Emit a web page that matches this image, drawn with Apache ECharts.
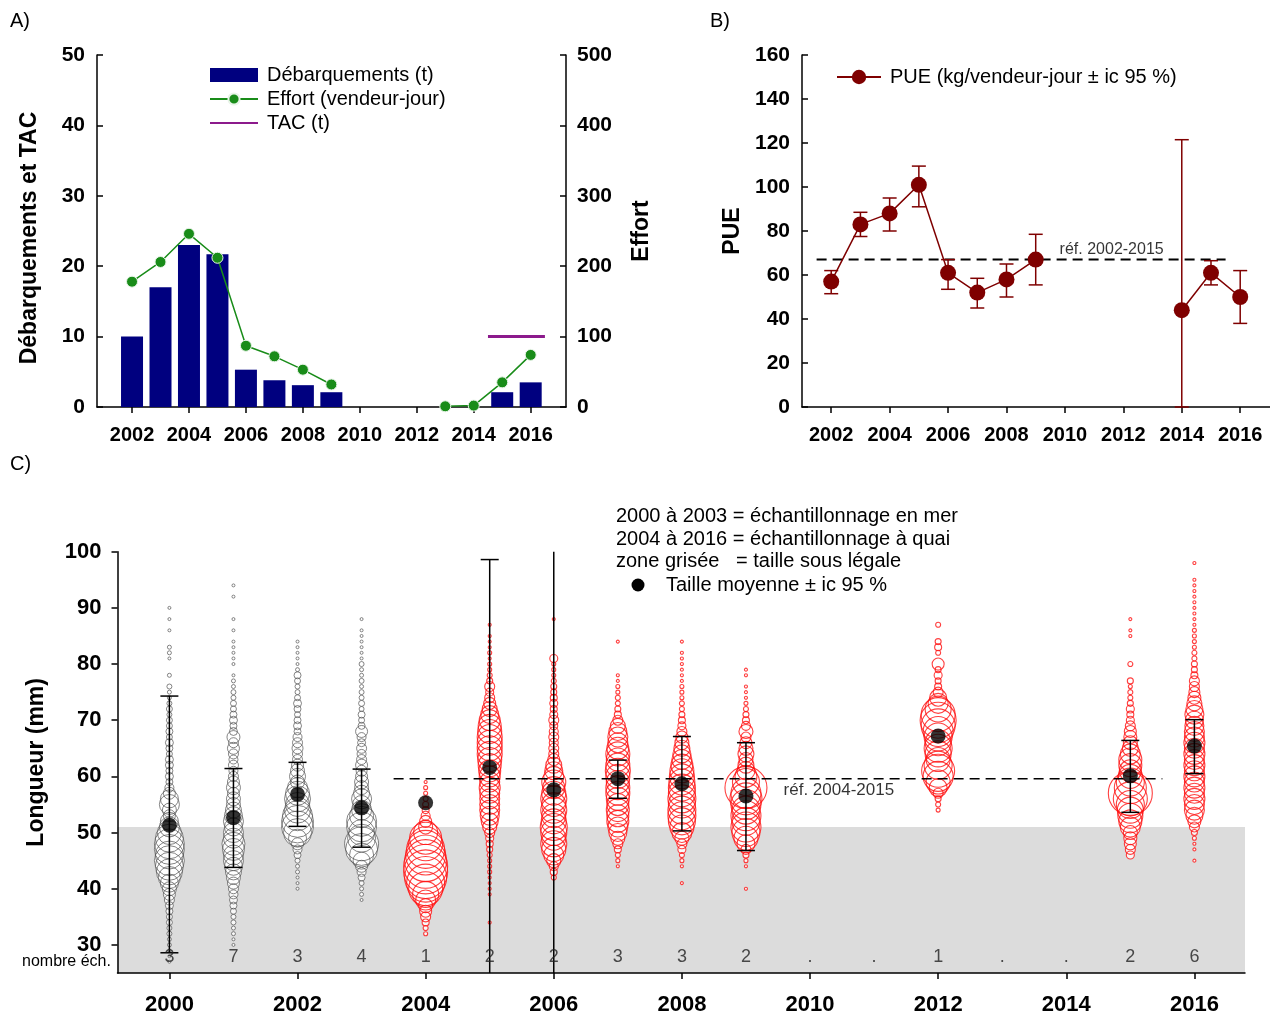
<!DOCTYPE html>
<html>
<head>
<meta charset="utf-8">
<script src="https://cdn.jsdelivr.net/npm/echarts@6/dist/echarts.min.js"></script>
<style>
  html, body { margin: 0; padding: 0; background: #fff; }
  #chart { width: 1270px; height: 1016px; }
</style>
</head>
<body>
<div id="chart"></div>
<script>
// ---------- A) Débarquements, effort, TAC ----------
const landYears = [2002, 2003, 2004, 2005, 2006, 2007, 2008, 2009, 2015, 2016];
const landings = [10, 17, 23, 21.7, 5.3, 3.8, 3.1, 2.1, 2.1, 3.5];
const effortYears = [2002, 2003, 2004, 2005, 2006, 2007, 2008, 2009, 2013, 2014, 2015, 2016];
const effort = [178, 206, 246, 212, 87, 72, 53, 32, 1, 2, 35, 74];
const tacYears = [2015, 2016];
const tac = [10, 10];

// ---------- B) PUE ----------
const pueYears = [2002, 2003, 2004, 2005, 2006, 2007, 2008, 2009, 2014, 2015, 2016];
const pue = [57, 83, 88, 101, 61, 52, 58, 67, 44, 61, 50];
const pueLow = [51.5, 77.5, 80, 91, 53.5, 45, 50, 55.5, 0, 55.5, 38];
const pueHigh = [62, 88.5, 95, 109.5, 67, 58.5, 65, 78.5, 121.5, 66.5, 62];
const pueRef = 67;
const pueRefSpan = [2001.5, 2015.5];

// ---------- C) Fréquences de longueur ----------
const sizeYears = [2000, 2001, 2002, 2003, 2004, 2005, 2006, 2007, 2008, 2009, 2010, 2011, 2012, 2013, 2014, 2015, 2016];
const sampleCount = [3, 7, 3, 4, 1, 2, 2, 3, 3, 2, null, null, 1, null, null, 2, 6];
const meanLength = [51.3, 52.7, 56.8, 54.4, 55.3, 61.6, 57.6, 59.6, 58.7, 56.5, null, null, 67.2, null, null, 60.1, 65.4];
const ciLow = [28.6, 43.8, 51.1, 47.4, null, 24.6, 15, 56.1, 50.3, 46.8, null, null, null, null, null, 53.6, 60.5];
const ciHigh = [74.3, 61.4, 62.5, 61.3, null, 98.6, 100.5, 62.9, 67.1, 66.0, null, null, null, null, null, 66.4, 70.1];
const legalSize = 51;
const sizeRef = 59.6;
const sizeRefSpan = [2003.5, 2015.5];
const lastSeaYear = 2003;

// relative frequency by 1-mm length class, starting at the given length
const start2000 = 27;
const freq2000 = [0.2,0.2,0.2,0.4,0.4,0.6,0.6,0.8,0.8,1.0, 1.2,1.6,2.0,2.4,3.2,4.0,4.8,5.2,5.6,5.2,
  5.6,5.6,5.2,4.4,3.6,3.2,2.0,2.4,3.6,3.2, 2.0,1.4,1.0,1.2,1.0,1.2,1.2,0.8,1.0,1.2,
  0.8,1.0,0.8,0.8,0.6,0.8,0.6,0.4,0.4,0.6, 0,0.4,0,0,0.2,0.4,0.4,0,0,0.2, 0,0.2,0,0.2];
const start2001 = 30;
const freq2001 = [0.2,0.2,0.4,0.4,0.6,0.6,0.8,1.0,1.2,1.4, 1.6,2.0,2.4,2.8,3.2,3.6,3.6,4.0,4.2,3.6,
  3.6,3.2,3.6,3.2,2.8,2.4,2.4,2.0,2.4,2.0, 1.6,1.4,1.6,1.4,1.6,2.0,1.6,2.2,1.2,1.0,
  1.2,1.0,0.8,0.8,0.6,0.6,0.4,0.4,0.2,0, 0.2,0.2,0.2,0.2,0.2,0,0.2,0,0.2,0, 0,0,0.2,0,0.2];
const start2002 = 40;
const freq2002 = [0.2,0.2,0.2,0.4,0.4,0.6,1.0,1.4,2.0,3.2, 5.2,6.0,6.0,5.6,4.8,4.4,4.8,4.4,3.6,2.4,
  2.8,2.4,2.0,1.6,1.6,1.8,1.6,1.4,1.0,1.2, 1.0,0.8,1.0,1.2,0.8,0.6,0.6,0.8,1.0,0.4, 0.2,0.2,0.2,0.2,0.2];
const start2003 = 38;
const freq2003 = [0.2,0.4,0.4,0.6,1.0,1.4,2.0,3.0,4.4,6.0, 6.4,5.2,4.8,5.6,5.6,4.4,3.6,3.2,3.6,2.8,
  2.4,2.4,2.0,1.8,2.0,1.6,1.4,1.6,1.2,1.4, 2.0,1.0,0.8,1.0,0.6,0.8,0.6,0.6,0.4,0.6,
  0.4,0.4,0.6,0.2,0.2,0.2,0.2,0.2,0.2,0, 0.2];
const start2004 = 32;
const freq2004 = [0.4,0.6,1.0,1.6,2.0,2.4,3.6,4.8,6.4,7.2, 8.0,8.4,8.4,8.0,7.6,7.2,6.4,6.0,4.4,2.4,
  2.0,1.4,1.0,0.8,0.6,0.4,0.4,0.2];
const start2005 = 34;
const freq2005 = [0.2,0,0,0,0,0.2,0.2,0.2,0.2,0.4, 0.4,0.4,0.6,0.8,1.0,1.2,1.6,2.4,3.0,3.4,
  3.6,3.6,3.6,3.6,3.8,3.6,3.8,4.0,4.2,4.4, 4.6,4.6,4.6,4.6,4.4,4.2,3.8,3.2,2.6,2.0,
  1.6,1.2,1.6,0.8,0.6,0.4,0.4,0.2,0.4,0.2, 0.2,0.2,0,0.2];
const start2006 = 42;
const freq2006 = [0.6,1.0,1.4,2.4,3.6,4.4,4.8,4.4,4.8,5.0, 4.6,4.4,4.8,4.4,4.8,4.4,4.0,4.4,3.6,3.2,
  2.8,2.0,1.6,1.6,1.4,1.6,1.4,1.2,1.6,1.2, 1.0,1.2,1.0,0.8,0.8,0.6,0.4,0.4,0.4,1.2, 0,0,0,0,0,0,0.2];
const start2007 = 44;
const freq2007 = [0.2,0.4,0.6,1.0,1.6,2.4,3.2,3.6,4.0,4.0, 4.2,4.0,4.2,4.4,4.4,4.2,4.4,4.6,4.4,4.2,
  4.4,4.0,3.6,3.6,3.2,2.6,1.6,1.0,0.8,0.6, 0.6,0.4,0.4,0.2,0.2,0,0,0,0,0, 0.2];
const start2008 = 41;
const freq2008 = [0.2,0,0,0.2,0.4,0.6,1.2,1.6,2.4,3.6, 4.4,5.0,5.2,5.2,5.0,5.2,5.0,5.0,4.8,4.6,
  4.4,4.0,3.6,3.2,2.8,2.4,2.0,1.6,1.2,1.0, 0.8,0.6,0.6,0.4,0.4,0.4,0.2,0.2,0.2,0.2, 0.2,0.2,0,0.2];
const start2009 = 40;
const freq2009 = [0.2,0,0,0,0.2,0.4,0.8,1.6,3.2,4.4, 5.2,5.6,5.2,5.6,5.2,5.6,6.0,5.6,8.0,5.0,
  4.0,3.2,2.8,2.4,2.8,2.4,2.0,1.6,2.4,1.4, 1.0,0.8,0.6,0.4,0.2,0.2,0.2,0,0.2,0.2];
const start2012 = 54;
const freq2012 = [0.4,0.6,0.8,1.6,3.2,4.4,5.6,6.2,5.2,4.4, 4.8,5.2,4.8,5.2,5.6,6.4,6.8,6.4,4.8,3.6,
  3.0,1.6,1.0,0.8,1.2,0.8,2.0,0,0.6,1.0, 0.8,0,0,0.6];
const start2015 = 46;
const freq2015 = [1.2,1.6,2.0,2.2,2.4,3.6,4.2,4.6,4.8,5.2, 6.4,8.4,6.0,5.2,4.4,4.0,4.2,4.2,3.6,2.8,
  2.4,2.2,2.0,1.6,1.2,1.0,1.2,0.8,0.6,0.6, 0.4,0.8,0,0,0.6,0,0,0,0,0.2, 0.2,0,0.2];
const start2016 = 45;
const freq2016 = [0.2,0,0.2,0.2,0.4,0.8,1.6,2.2,3.0,3.6, 3.6,3.8,3.6,3.8,3.6,3.8,3.6,3.8,3.6,3.8,
  3.6,3.8,3.6,3.6,3.4,3.2,3.4,3.0,2.6,2.2, 1.8,1.6,1.6,1.0,0.8,0.8,0.6,0.6,0.4,0.4,
  0.4,0.4,0.2,0.2,0.2,0.2,0.2,0.2,0.2,0.2, 0.2,0,0,0.2];

const lengthTables = [
  [2000, start2000, freq2000], [2001, start2001, freq2001], [2002, start2002, freq2002],
  [2003, start2003, freq2003], [2004, start2004, freq2004], [2005, start2005, freq2005],
  [2006, start2006, freq2006], [2007, start2007, freq2007], [2008, start2008, freq2008],
  [2009, start2009, freq2009], [2012, start2012, freq2012], [2015, start2015, freq2015],
  [2016, start2016, freq2016]
];

// ---------- helpers ----------
const FONT = '"Liberation Sans", Arial, Helvetica, sans-serif';
const evenYears = (a, b) => { const r = []; for (let y = a; y <= b; y += 2) r.push(y); return r; };

// break a line wherever a year is missing
function withGaps(years, values) {
  const out = [];
  years.forEach((y, i) => {
    if (i > 0 && y - years[i - 1] > 1) out.push([y - 1, '-']);
    out.push([y, values[i]]);
  });
  return out;
}

const circlesSea = [], circlesQuay = [];
lengthTables.forEach(([yr, first, fr]) => {
  fr.forEach((f, i) => {
    if (f > 0) (yr <= lastSeaYear ? circlesSea : circlesQuay).push([yr, first + i, f]);
  });
});
const circleSize = v => 2 + 5 * v[2];

const C_YMIN = 25, C_YMAX = 100;
const C_XMIN = 1999.19, C_XMAX = 2016.79;

function errorBarRenderer(cap, color, width, yMin, yMax) {
  return function (params, api) {
    const x = api.value(0);
    let lo = api.value(1), hi = api.value(2);
    const loCap = lo >= yMin, hiCap = hi <= yMax;
    lo = Math.max(lo, yMin); hi = Math.min(hi, yMax);
    const pLo = api.coord([x, lo]), pHi = api.coord([x, hi]);
    const style = { stroke: color, lineWidth: width };
    const children = [{ type: 'line', shape: { x1: pLo[0], y1: pLo[1], x2: pHi[0], y2: pHi[1] }, style }];
    if (hiCap) children.push({ type: 'line', shape: { x1: pHi[0] - cap, y1: pHi[1], x2: pHi[0] + cap, y2: pHi[1] }, style });
    if (loCap) children.push({ type: 'line', shape: { x1: pLo[0] - cap, y1: pLo[1], x2: pLo[0] + cap, y2: pLo[1] }, style });
    return { type: 'group', children };
  };
}

const axisLine = { show: true, onZero: false, lineStyle: { color: '#000', width: 1.5 } };
const tickOut = { show: true, inside: false, length: 6, lineStyle: { color: '#000', width: 1.5 } };
const tickIn = { show: true, inside: true, length: 6, lineStyle: { color: '#000', width: 1.5 } };
const boldLabel = (size, margin) => ({ color: '#000', fontFamily: FONT, fontWeight: 'bold', fontSize: size, margin });
const yearLabel = (size, margin, years) => Object.assign({ customValues: years, formatter: v => String(v) }, boldLabel(size, margin));
const nameStyle = { color: '#000', fontFamily: FONT, fontWeight: 'bold', fontSize: 23 };
const legendText = { fontFamily: FONT, fontSize: 20, color: '#000', padding: [0, 0, 0, 4] };

const pueData = withGaps(pueYears, pue);
const pueBars = pueYears.map((y, i) => [y, pueLow[i], pueHigh[i]]);
const meanPts = [], ciBars = [], countPts = [];
sizeYears.forEach((y, i) => {
  if (meanLength[i] != null) meanPts.push([y, meanLength[i]]);
  if (ciLow[i] != null) ciBars.push([y, ciLow[i], ciHigh[i]]);
  countPts.push([y, 28, sampleCount[i] == null ? '.' : String(sampleCount[i])]);
});

const option = {
  animation: false,
  backgroundColor: '#fff',
  textStyle: { fontFamily: FONT },
  grid: [
    { left: 97, top: 55, width: 469, height: 352 },
    { left: 802, top: 55, width: 468, height: 352 },
    { left: 117.5, top: 551.7, width: 1127.5, height: 421.6 }
  ],
  xAxis: [
    { gridIndex: 0, type: 'value', min: 2000.77, max: 2017.24, axisLine, splitLine: { show: false },
      axisTick: Object.assign({ customValues: evenYears(2002, 2016) }, tickOut),
      axisLabel: yearLabel(20, 18, evenYears(2002, 2016)) },
    { gridIndex: 1, type: 'value', min: 2001, max: 2017.02, axisLine, splitLine: { show: false },
      axisTick: Object.assign({ customValues: evenYears(2002, 2016) }, tickOut),
      axisLabel: yearLabel(20, 18, evenYears(2002, 2016)) },
    { gridIndex: 2, type: 'value', min: C_XMIN, max: C_XMAX, axisLine, splitLine: { show: false },
      axisTick: Object.assign({ customValues: evenYears(2000, 2016) }, tickOut),
      axisLabel: yearLabel(22, 21, evenYears(2000, 2016)) }
  ],
  yAxis: [
    { gridIndex: 0, type: 'value', min: 0, max: 50, interval: 10, position: 'left', axisLine, axisTick: tickIn,
      splitLine: { show: false }, axisLabel: boldLabel(21, 12),
      name: 'Débarquements et TAC', nameLocation: 'middle', nameRotate: 90, nameGap: 56,
      nameTextStyle: Object.assign({ padding: [0, 14, 0, 0] }, nameStyle) },
    { gridIndex: 0, type: 'value', min: 0, max: 500, interval: 100, position: 'right', axisLine, axisTick: tickIn,
      splitLine: { show: false }, axisLabel: boldLabel(21, 11),
      name: 'Effort', nameLocation: 'middle', nameRotate: 90, nameGap: 64, nameTextStyle: nameStyle },
    { gridIndex: 1, type: 'value', min: 0, max: 160, interval: 20, axisLine, axisTick: tickIn,
      splitLine: { show: false }, axisLabel: boldLabel(21, 12),
      name: 'PUE', nameLocation: 'middle', nameRotate: 90, nameGap: 58, nameTextStyle: nameStyle },
    { gridIndex: 2, type: 'value', min: C_YMIN, max: C_YMAX, axisLine, splitLine: { show: false },
      axisTick: Object.assign({ customValues: [30, 40, 50, 60, 70, 80, 90, 100] }, tickOut),
      axisLabel: Object.assign({ customValues: [30, 40, 50, 60, 70, 80, 90, 100] }, boldLabel(22, 16)),
      name: 'Longueur (mm)', nameLocation: 'middle', nameRotate: 90, nameGap: 69, nameTextStyle: nameStyle }
  ],
  legend: [
    { orient: 'vertical', left: 209, top: 65, itemWidth: 48, itemHeight: 14, itemGap: 4, padding: 0,
      textStyle: legendText, selectedMode: false,
      data: [
        { name: 'Débarquements (t)', icon: 'rect' },
        { name: 'Effort (vendeur-jour)' },
        { name: 'TAC (t)', itemStyle: { opacity: 0 } }
      ] },
    { orient: 'vertical', left: 836, top: 67, itemWidth: 44, itemHeight: 18, padding: 0,
      textStyle: legendText, selectedMode: false,
      data: ['PUE (kg/vendeur-jour ± ic 95 %)'] }
  ],
  graphic: [
    { type: 'text', left: 10, top: 11, style: { text: 'A)', font: '20px ' + FONT, fill: '#000' } },
    { type: 'text', left: 710, top: 11, style: { text: 'B)', font: '20px ' + FONT, fill: '#000' } },
    { type: 'text', left: 10, top: 454, style: { text: 'C)', font: '20px ' + FONT, fill: '#000' } },
    { type: 'text', left: 616, top: 506, style: { text: '2000 à 2003 = échantillonnage en mer', font: '20px ' + FONT, fill: '#000' } },
    { type: 'text', left: 616, top: 529, style: { text: '2004 à 2016 = échantillonnage à quai', font: '20px ' + FONT, fill: '#000' } },
    { type: 'text', left: 616, top: 551, style: { text: 'zone grisée   = taille sous légale', font: '20px ' + FONT, fill: '#000' } },
    { type: 'circle', shape: { cx: 638, cy: 585, r: 6.5 }, style: { fill: '#000' } },
    { type: 'text', left: 666, top: 575, style: { text: 'Taille moyenne ± ic 95 %', font: '20px ' + FONT, fill: '#000' } },
    { type: 'text', left: 22, top: 954, style: { text: 'nombre éch.', font: '16px ' + FONT, fill: '#000' } }
  ],
  series: [
    // ----- A -----
    { name: 'Débarquements (t)', type: 'bar', xAxisIndex: 0, yAxisIndex: 0, barWidth: 22,
      itemStyle: { color: '#00007f' }, data: landYears.map((y, i) => [y, landings[i]]), z: 2 },
    { name: 'Effort (vendeur-jour)', type: 'line', xAxisIndex: 0, yAxisIndex: 1, data: withGaps(effortYears, effort),
      symbol: 'circle', symbolSize: 11, connectNulls: false,
      itemStyle: { color: '#198c19', borderColor: '#e8f4e8', borderWidth: 1 },
      lineStyle: { color: '#198c19', width: 1.5 }, z: 4 },
    { name: 'TAC (t)', type: 'line', xAxisIndex: 0, yAxisIndex: 0, symbol: 'none',
      data: [[tacYears[0] - 0.5, tac[0]], [tacYears[tacYears.length - 1] + 0.5, tac[tac.length - 1]]],
      itemStyle: { color: '#8c1a8c' }, lineStyle: { color: '#8c1a8c', width: 3 }, z: 3 },

    // ----- B -----
    { name: 'réf', type: 'line', xAxisIndex: 1, yAxisIndex: 2, symbol: 'none', silent: true,
      data: [[pueRefSpan[0], pueRef], [pueRefSpan[1], pueRef]],
      lineStyle: { color: '#000', width: 2, type: [10, 6] }, z: 2 },
    { type: 'scatter', xAxisIndex: 1, yAxisIndex: 2, silent: true, symbolSize: 1, itemStyle: { color: 'rgba(0,0,0,0)' },
      data: [[2011.6, pueRef]],
      label: { show: true, position: 'top', distance: 2, formatter: 'réf. 2002-2015',
        fontFamily: FONT, fontSize: 16, color: '#000' } },
    { type: 'custom', xAxisIndex: 1, yAxisIndex: 2, data: pueBars, z: 3,
      renderItem: errorBarRenderer(7, '#7f0000', 1.5, 0, 160) },
    { name: 'PUE (kg/vendeur-jour ± ic 95 %)', type: 'line', xAxisIndex: 1, yAxisIndex: 2, data: pueData,
      symbol: 'circle', symbolSize: 16, itemStyle: { color: '#7f0000' },
      lineStyle: { color: '#7f0000', width: 1.5 }, z: 4 },

    // ----- C -----
    { type: 'custom', xAxisIndex: 2, yAxisIndex: 3, data: [[legalSize]], z: 0, silent: true,
      renderItem: (params, api) => {
        const p0 = api.coord([C_XMIN, api.value(0)]);
        const p1 = api.coord([C_XMAX, C_YMIN]);
        return { type: 'rect', shape: { x: p0[0], y: p0[1], width: p1[0] - p0[0], height: p1[1] - p0[1] },
          style: { fill: '#dcdcdc' } };
      } },
    { type: 'scatter', xAxisIndex: 2, yAxisIndex: 3, data: circlesSea.concat(circlesQuay), symbolSize: circleSize,
      itemStyle: { color: '#fff', borderWidth: 0 }, z: 2, silent: true },
    { type: 'scatter', xAxisIndex: 2, yAxisIndex: 3, data: circlesSea, symbolSize: circleSize,
      itemStyle: { color: 'rgba(0,0,0,0)', borderColor: '#555', borderWidth: 0.9 }, z: 3, silent: true },
    { type: 'scatter', xAxisIndex: 2, yAxisIndex: 3, data: circlesQuay, symbolSize: circleSize,
      itemStyle: { color: 'rgba(0,0,0,0)', borderColor: '#ff1010', borderWidth: 1.1 }, z: 3, silent: true },
    { type: 'line', xAxisIndex: 2, yAxisIndex: 3, symbol: 'none', silent: true,
      data: [[sizeRefSpan[0], sizeRef], [sizeRefSpan[1], sizeRef]],
      lineStyle: { color: '#000', width: 1.5, type: [10, 6] }, z: 4 },
    { type: 'scatter', xAxisIndex: 2, yAxisIndex: 3, silent: true, symbolSize: 1, itemStyle: { color: 'rgba(0,0,0,0)' },
      data: [[2010.45, sizeRef]],
      label: { show: true, position: 'bottom', distance: 3, formatter: 'réf. 2004-2015',
        fontFamily: FONT, fontSize: 17, color: '#000' }, z: 4 },
    { type: 'custom', xAxisIndex: 2, yAxisIndex: 3, data: ciBars, z: 5,
      renderItem: errorBarRenderer(9, '#000', 1.5, C_YMIN, C_YMAX) },
    { type: 'scatter', xAxisIndex: 2, yAxisIndex: 3, data: meanPts, symbolSize: 15,
      itemStyle: { color: '#000' }, z: 6, silent: true },
    { type: 'scatter', xAxisIndex: 2, yAxisIndex: 3, data: countPts, symbolSize: 1, silent: true,
      itemStyle: { color: 'rgba(0,0,0,0)' }, z: 7,
      label: { show: true, position: 'inside', offset: [0, 1], formatter: p => p.value[2],
        fontFamily: FONT, fontSize: 18, color: '#222' } }
  ]
};

const chart = echarts.init(document.getElementById('chart'), null, { renderer: 'canvas' });
chart.setOption(option);
</script>
</body>
</html>
